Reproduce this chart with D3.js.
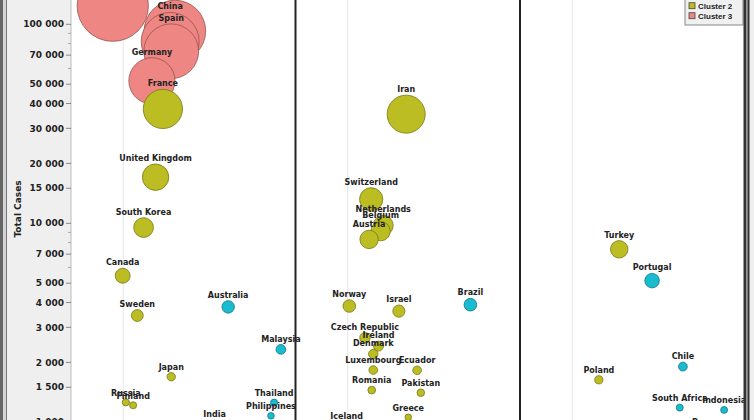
<!DOCTYPE html>
<html>
<head>
<meta charset="utf-8">
<script src="https://cdn.jsdelivr.net/npm/d3@7"></script>
<style>
  html, body { margin: 0; padding: 0; background: #fff; overflow: hidden; }
  svg { display: block; }
  .tick-label { font-family: "DejaVu Sans", sans-serif; font-weight: bold; font-size: 9px; fill: #222; }
  .pt-label { font-family: "DejaVu Sans", sans-serif; font-weight: bold; font-size: 8px; fill: #222; }
  .legend-label { font-family: "Liberation Sans", Arial, sans-serif; font-weight: bold; font-size: 8px; fill: #222; }
</style>
</head>
<body>
<div id="chart"></div>
<script>
// data
const countries = [
  "United States", "Italy", "China", "Spain", "Germany", "France", "United Kingdom",
  "South Korea", "Canada", "Sweden", "Japan", "Russia", "Finland", "Australia",
  "Malaysia", "Thailand", "Philippines", "India",
  "Iran", "Switzerland", "Netherlands", "Belgium", "Austria", "Norway", "Israel",
  "Brazil", "Czech Republic", "Ireland", "Denmark", "Luxembourg", "Ecuador",
  "Romania", "Pakistan", "Greece", "Iceland",
  "Turkey", "Portugal", "Chile", "Poland", "South Africa", "Indonesia", "Panama"
];
const totalCases = [
  124000, 92500, 82000, 73200, 52000, 37550, 17050,
  9520, 5450, 3440, 1694, 1260, 1218, 3800,
  2325, 1255, 1078, 987,
  35350, 13200, 9760, 9130, 8300, 3840, 3620,
  3900, 2660, 2415, 2202, 1831, 1825,
  1452, 1408, 1060, 963,
  7400, 5150, 1905, 1635, 1185, 1154, 900
];
const xValues = [
  -2.0, 9.9, 9.0, 9.2, 5.5, 7.6, 6.2,
  3.9, -0.1, 2.7, 9.2, 0.5, 1.9, 20.1,
  30.2, 28.9, 28.3, 17.5,
  11.2, 4.5, 6.8, 6.3, 4.1, 0.3, 9.8,
  23.5, 3.3, 5.9, 4.9, 4.9, 13.3,
  4.6, 14.0, 11.6, -0.2,
  9.0, 15.3, 21.2, 5.1, 20.6, 29.1, 26.4
];
const panelIndex = [
  0,0,0,0,0,0,0, 0,0,0,0,0,0,0, 0,0,0,0,
  1,1,1,1,1,1,1, 1,1,1,1,1,1, 1,1,1,1,
  2,2,2,2,2,2,2
];
const clusterIndex = [
  2,2,2,2,2,1,1, 1,1,1,1,1,1,0, 0,0,0,0,
  1,1,1,1,1,1,1, 0,1,1,1,1,1, 1,1,1,1,
  1,0,0,1,0,0,0
];
const clusterNames = ["Cluster 1", "Cluster 2", "Cluster 3"];
const clusterColors = ["#19bccf", "#bcbd22", "#ee8683"];
const yTicks = [1000, 1500, 2000, 3000, 4000, 5000, 7000, 10000, 15000, 20000, 30000, 40000, 50000, 70000, 100000];
const yMinorTicks = [6000, 8000, 9000, 60000, 80000, 90000];

const W = 754, H = 420;
const plotLeft = 71, panelW = 224.5, nPanels = 3;
const plotTop = -120, plotBottom = 520;

const svg = d3.select("#chart").append("svg")
  .attr("width", W).attr("height", H);

// chart background (grey frame) and white plot
svg.append("rect").attr("width", W).attr("height", H).attr("fill", "#efefef");
svg.append("rect")
  .attr("x", plotLeft).attr("y", plotTop)
  .attr("width", panelW * nPanels).attr("height", plotBottom - plotTop)
  .attr("fill", "#fff");

const y = d3.scaleLog().domain([1000, 100000]).range([422.3, 24.3]);
const x = d3.scaleLinear().domain([-10, 33]).range([0, panelW]);
const r = d3.scaleSqrt().domain([0, 100000]).range([0, 32]);
const fmt = v => d3.format(",")(v).replace(/,/g, " ");

// vertical grid line per panel
for (let p = 0; p < nPanels; p++) {
  const gx = plotLeft + p * panelW + x(0);
  svg.append("line")
    .attr("x1", gx).attr("x2", gx)
    .attr("y1", plotTop).attr("y2", plotBottom)
    .attr("stroke", "#e6e6e6").attr("stroke-width", 1);
}

// y axis
const yAxis = svg.append("g").attr("transform", `translate(${plotLeft},0)`);
yAxis.append("line").attr("x1", 0).attr("x2", 0)
  .attr("y1", plotTop).attr("y2", plotBottom).attr("stroke", "#bbb");
yAxis.selectAll("line.major").data(yTicks).join("line")
  .attr("class", "major")
  .attr("x1", -5).attr("x2", 0)
  .attr("y1", d => y(d)).attr("y2", d => y(d))
  .attr("stroke", "#888");
yAxis.selectAll("line.minor").data(yMinorTicks).join("line")
  .attr("class", "minor")
  .attr("x1", -3).attr("x2", 0)
  .attr("y1", d => y(d)).attr("y2", d => y(d))
  .attr("stroke", "#aaa");
yAxis.selectAll("text").data(yTicks).join("text")
  .attr("class", "tick-label")
  .attr("x", -7).attr("y", d => y(d)).attr("dy", "0.35em")
  .attr("text-anchor", "end")
  .text(fmt);

svg.append("text")
  .attr("class", "tick-label")
  .attr("transform", "translate(21,209) rotate(-90)")
  .attr("text-anchor", "middle")
  .text("Total Cases");

// points
const points = countries.map((name, i) => ({
  name,
  cases: totalCases[i],
  xv: xValues[i],
  panel: panelIndex[i],
  cluster: clusterIndex[i]
}));
const px = d => plotLeft + d.panel * panelW + x(d.xv);

const drawOrder = points.slice().sort((a, b) => b.cases - a.cases);
svg.append("g").selectAll("circle").data(drawOrder).join("circle")
  .attr("cx", px)
  .attr("cy", d => y(d.cases))
  .attr("r", d => r(d.cases))
  .attr("fill", d => clusterColors[d.cluster])
  .attr("stroke", d => d3.color(clusterColors[d.cluster]).darker(1.3))
  .attr("stroke-width", 0.8);

svg.append("g").selectAll("text").data(drawOrder).join("text")
  .attr("class", "pt-label")
  .attr("x", px)
  .attr("y", d => y(d.cases) - r(d.cases) - 3)
  .attr("text-anchor", "middle")
  .text(d => d.name);

// panel separators
for (let p = 1; p < nPanels; p++) {
  const sx = plotLeft + p * panelW;
  svg.append("line")
    .attr("x1", sx).attr("x2", sx)
    .attr("y1", plotTop).attr("y2", plotBottom)
    .attr("stroke", "#222").attr("stroke-width", 2);
}

// legend
const lg = svg.append("g").attr("transform", "translate(685,0)");
lg.append("rect")
  .attr("x", 0).attr("y", -16).attr("width", 58).attr("height", 41)
  .attr("fill", "#f0f0f0").attr("stroke", "#888");
const items = lg.selectAll("g").data(clusterNames).join("g")
  .attr("transform", (d, i) => `translate(0,${-4.3 + i * 10})`);
items.append("rect")
  .attr("x", 4).attr("y", -3).attr("width", 6).attr("height", 6)
  .attr("fill", (d, i) => clusterColors[i])
  .attr("stroke", "#444").attr("stroke-width", 0.8);
items.append("text")
  .attr("class", "legend-label")
  .attr("x", 13).attr("y", 3)
  .text(d => d);

// frame edges
const plotRight = plotLeft + panelW * nPanels;
svg.append("rect").attr("x", plotRight - 1).attr("y", 0).attr("width", 2.5).attr("height", H).attr("fill", "#333");
svg.append("rect").attr("x", plotRight + 1.5).attr("y", 0).attr("width", 1.5).attr("height", H).attr("fill", "#999");
svg.append("rect").attr("x", plotRight + 3).attr("y", 0).attr("width", 2).attr("height", H).attr("fill", "#333");
svg.append("rect").attr("x", 0).attr("y", 0).attr("width", 3).attr("height", H).attr("fill", "#666");
svg.append("rect").attr("x", 3).attr("y", 0).attr("width", 3).attr("height", H).attr("fill", "#d4d4d4");
svg.append("rect").attr("x", 6).attr("y", 0).attr("width", 1).attr("height", H).attr("fill", "#777");
</script>
</body>
</html>
